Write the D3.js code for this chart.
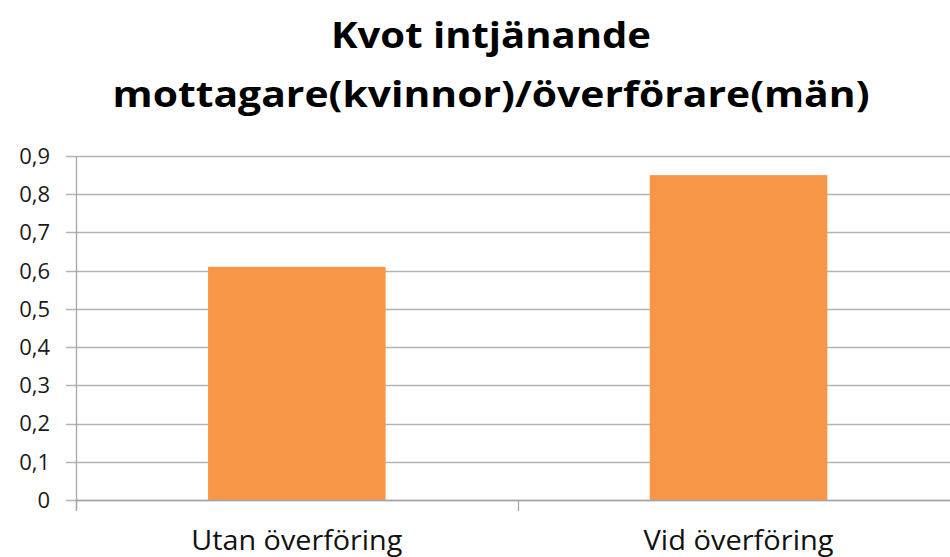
<!DOCTYPE html>
<html>
<head>
<meta charset="utf-8">
<script src="https://cdn.jsdelivr.net/npm/d3@7"></script>
<style>
  html, body { margin: 0; padding: 0; background: #fff; }
  svg { display: block; }
</style>
</head>
<body>
<svg id="chart" width="950" height="557"></svg>
<script>
// ---- data ----
const titleLines = ["Kvot intjänande", "mottagare(kvinnor)/överförare(män)"];
const categories = ["Utan överföring", "Vid överföring"];
const values = [0.61, 0.85];
const yTicks = [0, 0.1, 0.2, 0.3, 0.4, 0.5, 0.6, 0.7, 0.8, 0.9];
const yTickLabels = ["0", "0,1", "0,2", "0,3", "0,4", "0,5", "0,6", "0,7", "0,8", "0,9"];

// ---- layout ----
const W = 950, H = 557;
const plot = { left: 76, right: 959.4, top: 156, bottom: 500 };
const gridColor = "#b3b3b3";
const axisColor = "#a6a6a6";
const barColor = "#F79646";
const font = "'Open Sans', 'Liberation Sans', sans-serif";

const svg = d3.select("#chart");

const x = d3.scaleBand().domain(categories).range([plot.left, plot.right]).padding(0);
const y = d3.scaleLinear().domain([0, 0.9]).range([plot.bottom, plot.top]);

// gridlines (extend left as outside tick marks)
svg.append("g").selectAll("line").data(yTicks).join("line")
  .attr("x1", plot.left - 10).attr("x2", W)
  .attr("y1", d => Math.round(y(d)) + 0.5).attr("y2", d => Math.round(y(d)) + 0.5)
  .attr("stroke", gridColor).attr("stroke-width", 1.3);

// bars
const barFrac = 0.402;
svg.append("g").selectAll("rect").data(values).join("rect")
  .attr("x", (d, i) => x(categories[i]) + x.bandwidth() * (1 - barFrac) / 2)
  .attr("width", x.bandwidth() * barFrac)
  .attr("y", d => y(d))
  .attr("height", d => y(0) - y(d))
  .attr("fill", barColor);

// y axis line
svg.append("line")
  .attr("x1", plot.left + 0.5).attr("x2", plot.left + 0.5)
  .attr("y1", plot.top).attr("y2", plot.bottom + 11)
  .attr("stroke", axisColor).attr("stroke-width", 1.3);

// x axis line
svg.append("line")
  .attr("x1", plot.left).attr("x2", W)
  .attr("y1", Math.round(y(0)) + 0.5).attr("y2", Math.round(y(0)) + 0.5)
  .attr("stroke", axisColor).attr("stroke-width", 1.3);

// x axis ticks at band boundaries
const boundaries = categories.map(c => x(c)).concat([x(categories[categories.length - 1]) + x.bandwidth()]);
svg.append("g").selectAll("line").data(boundaries).join("line")
  .attr("x1", d => Math.round(d) + 0.5).attr("x2", d => Math.round(d) + 0.5)
  .attr("y1", plot.bottom).attr("y2", plot.bottom + 11)
  .attr("stroke", axisColor).attr("stroke-width", 1.3);

// y tick labels
svg.append("g").selectAll("text").data(yTicks).join("text")
  .attr("x", 50)
  .attr("y", d => y(d))
  .attr("dy", "0.36em")
  .attr("text-anchor", "end")
  .attr("font-family", font)
  .attr("font-size", 22)
  .attr("fill", "#1a1a1a")
  .text((d, i) => yTickLabels[i]);

// x category labels
const xLabelWidths = [211, 190];
svg.append("g").selectAll("text").data(categories).join("text")
  .attr("x", d => x(d) + x.bandwidth() / 2)
  .attr("y", 550)
  .attr("text-anchor", "middle")
  .attr("font-family", font)
  .attr("font-size", 28)
  .attr("fill", "#111")
  .attr("textLength", (d, i) => xLabelWidths[i])
  .attr("lengthAdjust", "spacingAndGlyphs")
  .text(d => d);

// title
const titleBaselines = [47.5, 106.5];
const titleWidths = [320, 757];
svg.append("g").selectAll("text").data(titleLines).join("text")
  .attr("x", 491)
  .attr("y", (d, i) => titleBaselines[i])
  .attr("text-anchor", "middle")
  .attr("font-family", font)
  .attr("font-weight", "bold")
  .attr("font-size", 36)
  .attr("fill", "#000")
  .attr("textLength", (d, i) => titleWidths[i])
  .attr("lengthAdjust", "spacingAndGlyphs")
  .text(d => d);
</script>
</body>
</html>
